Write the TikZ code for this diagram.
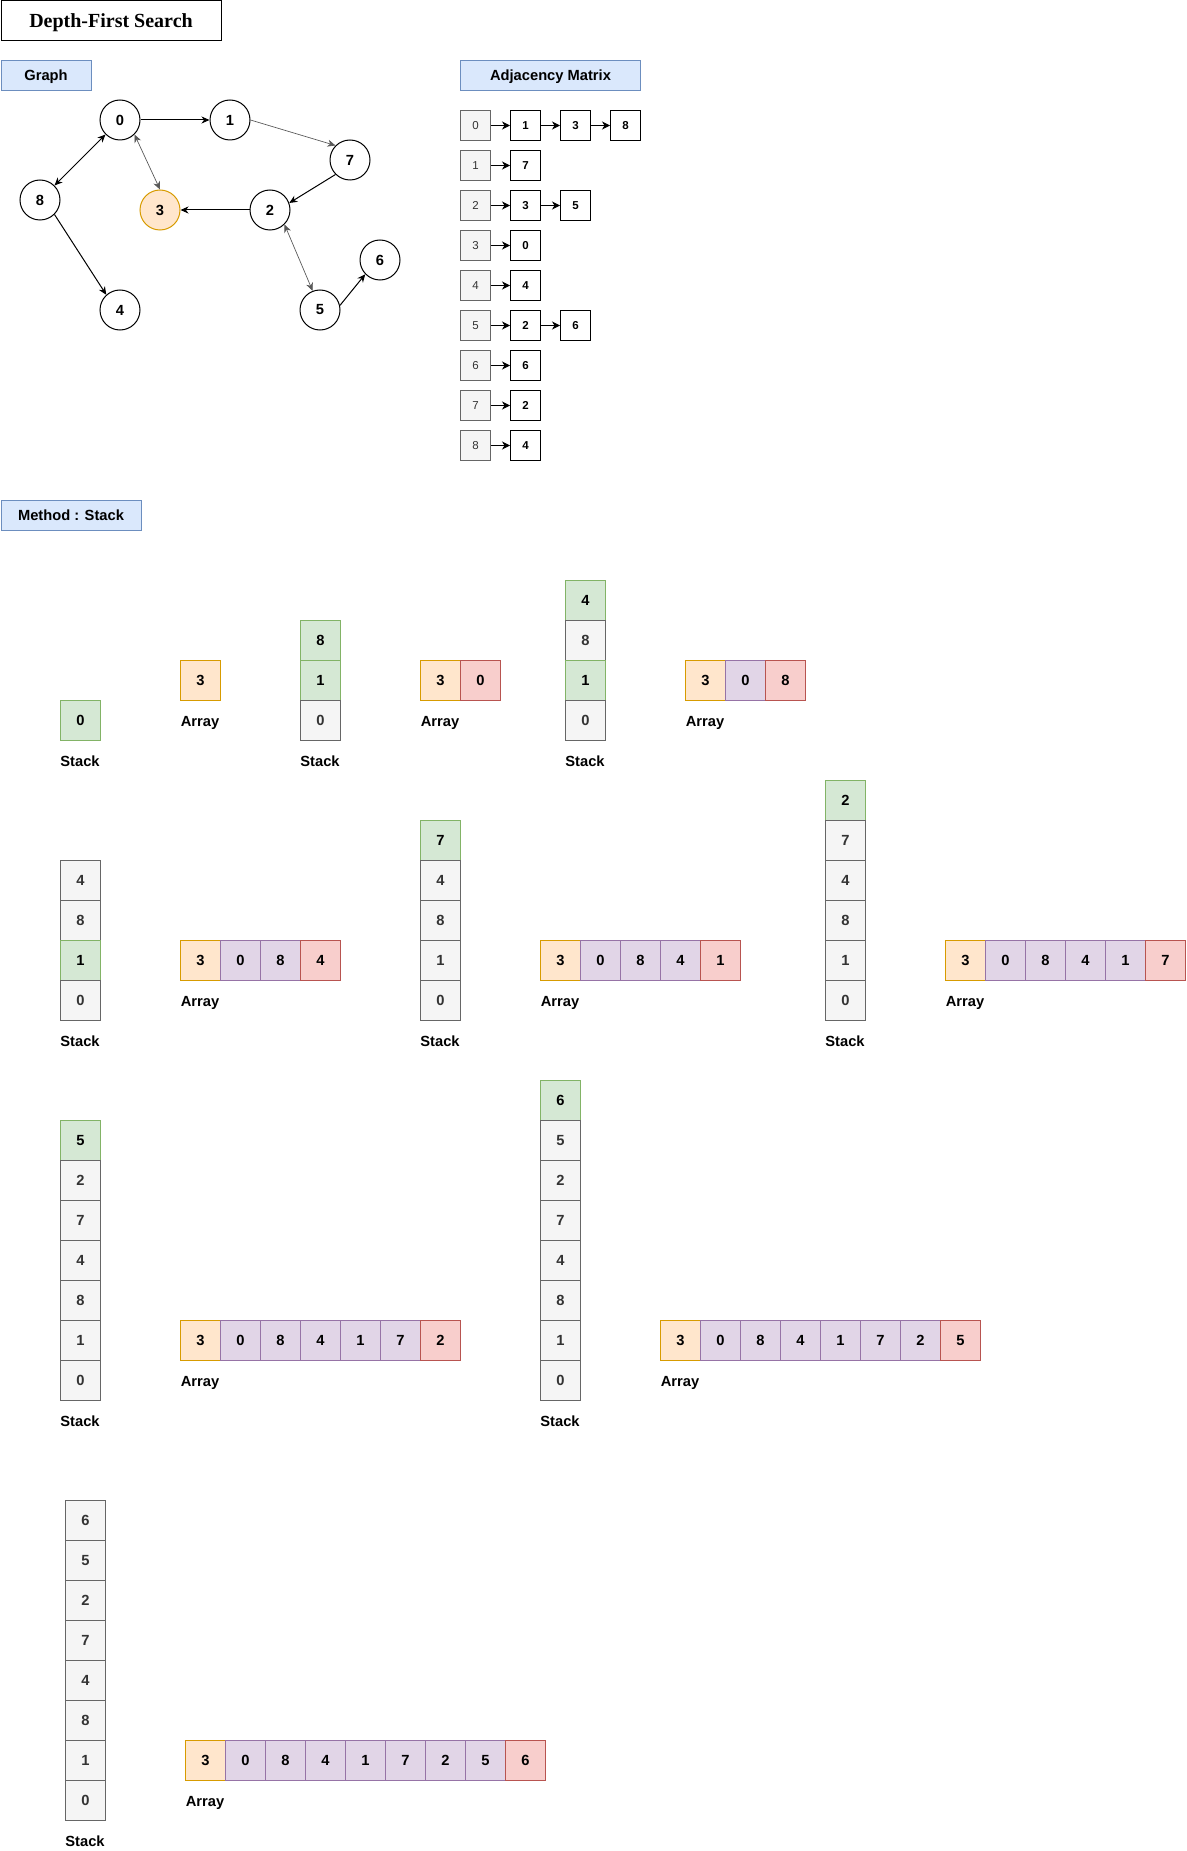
\documentclass[tikz,border=0pt]{standalone}
\usepackage{fontspec}
\setmainfont{Liberation Sans}
\newfontfamily\titlefont{Liberation Serif}
\usetikzlibrary{arrows.meta}
\definecolor{gfill}{HTML}{F5F5F5}\definecolor{gdraw}{HTML}{666666}\definecolor{gtext}{HTML}{333333}
\definecolor{Gfill}{HTML}{D5E8D4}\definecolor{Gdraw}{HTML}{82B366}
\definecolor{ofill}{HTML}{FFE6CC}\definecolor{odraw}{HTML}{D79B00}
\definecolor{pfill}{HTML}{E1D5E7}\definecolor{pdraw}{HTML}{9673A6}
\definecolor{rfill}{HTML}{F8CECC}\definecolor{rdraw}{HTML}{B85450}
\definecolor{bfill}{HTML}{DAE8FC}\definecolor{bdraw}{HTML}{6C8EBF}
\newcommand\bigf{\bfseries\fontsize{14.7}{17}\selectfont}
\newcommand\stk[5]{% name, x, ytop, n, list
  \foreach \cc/\vv [count=\ii from 0] in {#5} {
    \node[cell,\cc] (#1-\ii) at (#2, {#3+40*\ii}) {\vv};
  }
  \node[lab] (#1l) at (#2+20, {#3+40*#4+26.5}) {Stack};
}
\newcommand\arr[4]{% name, x, y, list
  \foreach \cc/\vv [count=\ii from 0] in {#4} {
    \node[cell,\cc] (#1-\ii) at ({#2+40*\ii}, #3) {\vv};
  }
  \node[lab] (#1l) at (#2+20, {#3+66.5}) {Array};
}
\begin{document}
\begin{tikzpicture}[x=1pt,y=-1pt,
  cell/.style={draw, line width=1pt, minimum width=40pt, minimum height=40pt, inner sep=0pt, anchor=north west, font=\bigf},
  cg/.style={fill=gfill, draw=gdraw, text=gtext},
  cG/.style={fill=Gfill, draw=Gdraw},
  co/.style={fill=ofill, draw=odraw},
  cp/.style={fill=pfill, draw=pdraw},
  cr/.style={fill=rfill, draw=rdraw},
  lab/.style={anchor=base, inner sep=0pt, font=\bigf},
  hdr/.style={fill=bfill, draw=bdraw, line width=1pt, anchor=north west, inner sep=0pt, font=\bigf, text height=10.6pt, text depth=0pt},
  gnode/.style={circle, draw, line width=1pt, minimum size=40pt, inner sep=0pt, fill=white, font=\bigf},
  garr/.style={-{Stealth[length=8pt,width=7pt,inset=2.5pt]}, line width=1pt},
  gboth/.style={{Stealth[length=8pt,width=7pt,inset=2.5pt]}-{Stealth[length=8pt,width=7pt,inset=2.5pt]}, line width=1pt},
  light/.style={draw=black!65, line width=0.7pt},
  idx/.style={fill=gfill, draw=gdraw, text=gtext, line width=1pt, minimum size=30pt, inner sep=0pt, anchor=north west, font=\fontsize{11.5}{13}\selectfont},
  nb/.style={fill=white, draw=black, line width=1pt, minimum size=30pt, inner sep=0pt, anchor=north west, font=\bfseries\fontsize{11.5}{13}\selectfont},
  aarr/.style={-{Stealth[length=8pt,width=8pt,inset=2.5pt]}, line width=1pt}]
\useasboundingbox (0,0) rectangle (1186,1851);
% title
\node[draw, line width=1pt, anchor=north west, minimum width=220pt, minimum height=40pt, inner sep=0pt,
  text height=13.5pt, text depth=0pt,
  font=\titlefont\bfseries\fontsize{20}{24}\selectfont] (title) at (0.5,0.5) {Depth-First Search};
% headers
\node[hdr, minimum width=90pt, minimum height=30pt] (hgraph) at (0.5,60) {Graph};
\node[hdr, minimum width=180pt, minimum height=30pt] (hadj) at (460,60) {Adjacency Matrix};
\node[hdr, minimum width=140pt, minimum height=30pt] (hmeth) at (0.5,500) {Method : Stack};
% graph
\node[gnode] (n0) at (120,120) {0};
\node[gnode] (n1) at (230,120) {1};
\node[gnode] (n7) at (350,160) {7};
\node[gnode] (n8) at (40,200) {8};
\node[gnode, fill=ofill, draw=odraw] (n3) at (160,210) {3};
\node[gnode] (n2) at (270,210) {2};
\node[gnode] (n6) at (380,260) {6};
\node[gnode] (n4) at (120,310) {4};
\node[gnode] (n5) at (320,310) {5};
\draw[garr] (n0.east) -- (n1.west);
\draw[garr, light] (n1.east) -- (n7.135);
\draw[garr] (n7.-135) -- (n2.20);
\draw[garr] (n2.west) -- (n3.east);
\draw[gboth] (n0.-135) -- (n8.45);
\draw[gboth, light] (n0.-45) -- (n3.north);
\draw[garr] (n8.-45) -- (n4.132);
\draw[gboth, light] (n2.-45) -- (n5.111);
\draw[garr] (n5.13) -- (n6.224);
% adjacency lists
\foreach \rr/\lst [count=\ri from 0] in {0/{1,3,8},1/{7},2/{3,5},3/{0},4/{4},5/{2,6},6/{6},7/{2},8/{4}} {
  \node[idx] (m\rr-0) at (460, {110+40*\ri}) {\rr};
  \foreach \vv [count=\jj, remember=\jj as \pj (initially 0)] in \lst {
    \node[nb] (m\rr-\jj) at ({460+50*\jj}, {110+40*\ri}) {\vv};
    \draw[aarr] (m\rr-\pj) -- (m\rr-\jj);
  }
}
% row 1
\stk{s1}{60}{700}{1}{cG/0}
\arr{a1}{180}{660}{co/3}
\stk{s2}{300}{620}{3}{cG/8,cG/1,cg/0}
\arr{a2}{420}{660}{co/3,cr/0}
\stk{s3}{565}{580}{4}{cG/4,cg/8,cG/1,cg/0}
\arr{a3}{685}{660}{co/3,cp/0,cr/8}
% row 2
\stk{s4}{60}{860}{4}{cg/4,cg/8,cG/1,cg/0}
\arr{a4}{180}{940}{co/3,cp/0,cp/8,cr/4}
\stk{s5}{420}{820}{5}{cG/7,cg/4,cg/8,cg/1,cg/0}
\arr{a5}{540}{940}{co/3,cp/0,cp/8,cp/4,cr/1}
\stk{s6}{825}{780}{6}{cG/2,cg/7,cg/4,cg/8,cg/1,cg/0}
\arr{a6}{945}{940}{co/3,cp/0,cp/8,cp/4,cp/1,cr/7}
% row 3
\stk{s7}{60}{1120}{7}{cG/5,cg/2,cg/7,cg/4,cg/8,cg/1,cg/0}
\arr{a7}{180}{1320}{co/3,cp/0,cp/8,cp/4,cp/1,cp/7,cr/2}
\stk{s8}{540}{1080}{8}{cG/6,cg/5,cg/2,cg/7,cg/4,cg/8,cg/1,cg/0}
\arr{a8}{660}{1320}{co/3,cp/0,cp/8,cp/4,cp/1,cp/7,cp/2,cr/5}
% row 4
\stk{s9}{65}{1500}{8}{cg/6,cg/5,cg/2,cg/7,cg/4,cg/8,cg/1,cg/0}
\arr{a9}{185}{1740}{co/3,cp/0,cp/8,cp/4,cp/1,cp/7,cp/2,cp/5,cr/6}
\end{tikzpicture}
\end{document}
